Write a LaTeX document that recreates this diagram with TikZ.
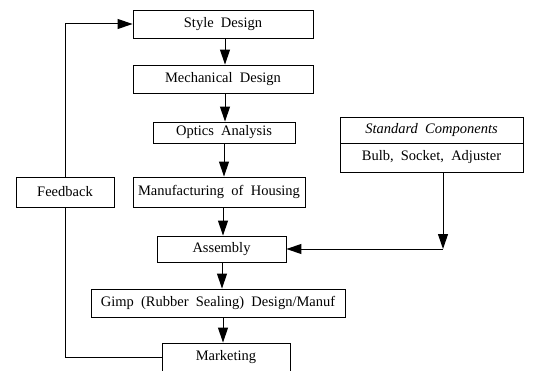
\documentclass[tikz,border=0pt]{standalone}
\usepackage{fontspec}
\setmainfont{Liberation Serif}[WordSpace=2]
\usetikzlibrary{arrows.meta}
\begin{document}
\begin{tikzpicture}[x=1pt,y=-1pt,
  box/.style={draw, line width=0.9pt, fill=white, inner sep=0pt, font=\fontsize{14.5}{16}\selectfont},
  arr/.style={line width=1pt, -{Triangle[length=15pt,width=10pt]}},
  conn/.style={line width=1pt}]
\useasboundingbox (0,0) rectangle (534,371);
\node[box, minimum width=180pt, minimum height=28pt] (sd) at (223,24) {Style Design};
\node[box, minimum width=180pt, minimum height=28pt] (md) at (223,79) {Mechanical Design};
\node[box, minimum width=142pt, minimum height=21pt] (oa) at (224,132.5) {Optics Analysis};
\node[box, minimum width=172pt, minimum height=30pt] (mh) at (219,192) {Manufacturing of Housing};
\node[box, minimum width=129pt, minimum height=26pt] (as) at (221.5,249) {Assembly};
\node[box, minimum width=254pt, minimum height=28pt] (gm) at (218,303) {Gimp (Rubber Sealing) Design/Manuf};
\node[box, minimum width=128pt, minimum height=29pt] (mk) at (226,357.5) {Marketing};
\node[box, minimum width=98pt, minimum height=30pt] (fb) at (65,192) {Feedback};
\node[box, minimum width=183pt, minimum height=26pt] (sc1) at (431.5,130) {\itshape Standard Components};
\node[box, minimum width=183pt, minimum height=29pt] (sc2) at (431.5,157.5) {Bulb, Socket, Adjuster};
\coordinate (c) at (443,249);
\draw[arr] (sd.south -| 225,0) -- (md.north -| 225,0);
\draw[arr] (md.south -| 225,0) -- (oa.north -| 225,0);
\draw[arr] (oa.south -| 224,0) -- (mh.north -| 224,0);
\draw[arr] (mh.south -| 223,0) -- (as.north -| 223,0);
\draw[arr] (as.south -| 222,0) -- (gm.north -| 222,0);
\draw[arr] (gm.south -| 223,0) -- (mk.north -| 223,0);
\draw[conn] (mk.west) -| (fb.south);
\draw[arr] (fb.north) |- (sd.west);
\draw[arr] (sc2.south -| c) -- (c);
\draw[arr] (c) -- (as.east);
\end{tikzpicture}
\end{document}
